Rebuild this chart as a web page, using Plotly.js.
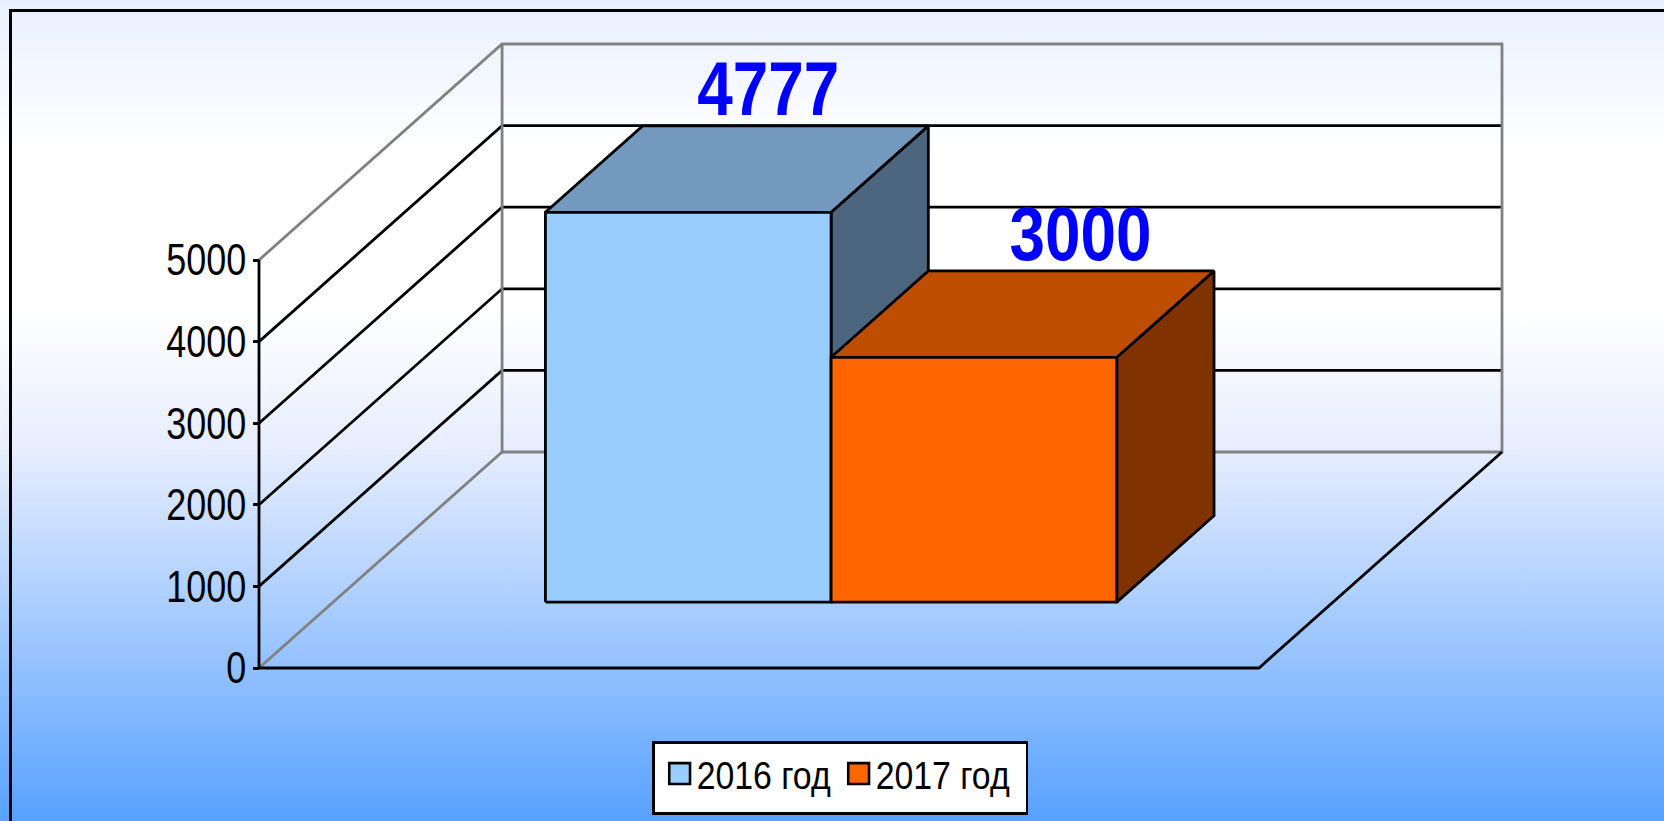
<!DOCTYPE html>
<html>
<head>
<meta charset="utf-8">
<script src="https://cdn.plot.ly/plotly-3.0.1.min.js"></script>
<style>
html,body{margin:0;padding:0;width:1664px;height:821px;overflow:hidden;}
#bg{position:absolute;left:0;top:0;width:1664px;height:821px;background:linear-gradient(to bottom,#e8efff 0px,#ffffff 150px,#ffffff 310px,#e6edff 451px,#57a1ff 821px);}
#frame{position:absolute;left:9px;top:9px;width:1660px;height:815px;border-left:3px solid #000;border-top:3px solid #000;}
#chart{position:absolute;left:0;top:0;width:1664px;height:821px;}
</style>
</head>
<body>
<div id="bg"></div>
<div id="frame"></div>
<div id="chart"></div>
<script>
const categories = ['2016 год', '2017 год'];
const values = [4777, 3000];
const tickValues = [0, 1000, 2000, 3000, 4000, 5000];
const frontColors = ['#99ccff', '#ff6600'];
const topColors = ['#7399bf', '#bf4d00'];
const sideColors = ['#4d6680', '#803300'];

const FONT = '"Liberation Sans",Arial,sans-serif';
const UNIT_W = 285.6, PX_PER_VAL = 0.0816;
const DEPTH_X = 243 / UNIT_W, DEPTH_Y = 216 / PX_PER_VAL;
const FLOOR_W = 3.5, GAP = 0.743;
const BAR_D0 = 0.305, BAR_D1 = 0.705;
const LW = 2.8;
const PAD = 5; // pixels of slack so the frame lines are not clipped by the plot area
const proj = (x, v, d) => [x + d * DEPTH_X, v + d * DEPTH_Y];

function poly(points, style) {
  return Object.assign({
    x: points.map(p => p[0]), y: points.map(p => p[1]),
    type: 'scatter', mode: 'lines', cliponaxis: false,
    hoverinfo: 'skip', showlegend: false
  }, style);
}
const line = (points, color) => poly(points, {line: {color: color, width: LW}});
const face = (points, fill) => poly(points.concat([points[0]]), {
  fill: 'toself', fillcolor: fill, line: {color: '#000', width: LW, simplify: false}
});

const traces = [];
const topTick = tickValues[tickValues.length - 1];

// Gridlines on side and back walls
tickValues.slice(1, -1).forEach(v => {
  traces.push(line([proj(0, v, 0), proj(0, v, 1), proj(FLOOR_W, v, 1)], '#000'));
});
// Wall outlines
traces.push(line([proj(0, topTick, 0), proj(0, topTick, 1), proj(FLOOR_W, topTick, 1), proj(FLOOR_W, 0, 1), proj(0, 0, 1), proj(0, topTick, 1)], '#808080'));
traces.push(line([proj(0, 0, 0), proj(0, 0, 1)], '#808080'));
// Floor edges and value axis
traces.push(line([proj(FLOOR_W, 0, 1), proj(FLOOR_W, 0, 0), proj(0, 0, 0)], '#000'));
traces.push(line([proj(0, 0, 0), proj(0, topTick, 0)], '#000'));

// Bars
values.forEach((v, i) => {
  const x0 = GAP + i, x1 = GAP + i + 1;
  traces.push(face([proj(x1, 0, BAR_D0), proj(x1, 0, BAR_D1), proj(x1, v, BAR_D1), proj(x1, v, BAR_D0)], sideColors[i]));
  traces.push(face([proj(x0, v, BAR_D0), proj(x1, v, BAR_D0), proj(x1, v, BAR_D1), proj(x0, v, BAR_D1)], topColors[i]));
  traces.push(face([proj(x0, 0, BAR_D0), proj(x1, 0, BAR_D0), proj(x1, v, BAR_D0), proj(x0, v, BAR_D0)], frontColors[i]));
});

// Value labels
const labelShift = [-0.06, 0.033];
const labelDrop = 95;
values.forEach((v, i) => {
  const p = proj(GAP + i + 0.5 + labelShift[i], v - labelDrop, BAR_D1);
  traces.push({
    x: [p[0]], y: [p[1]], text: [String(v)], type: 'scatter', mode: 'text',
    textposition: 'top center', cliponaxis: false, hoverinfo: 'skip', showlegend: false,
    textfont: {family: FONT, size: 76, color: '#0000ff', weight: 'bold'}
  });
});

// Legend entries
categories.forEach((c, i) => {
  traces.push({
    x: [null], y: [null], name: c, type: 'scatter', mode: 'markers', hoverinfo: 'skip',
    marker: {symbol: 'square', size: 16, color: frontColors[i], line: {color: '#000', width: 2}}
  });
});

const plotW = 1664 - (259 - PAD) - (162.3 - PAD);
const layout = {
  width: 1664, height: 821,
  paper_bgcolor: 'rgba(0,0,0,0)', plot_bgcolor: 'rgba(0,0,0,0)',
  margin: {l: 259 - PAD, r: 162.3 - PAD, t: 43.5 - PAD, b: 152.5 - PAD, pad: 0, autoexpand: false},
  xaxis: {range: [-PAD / UNIT_W, FLOOR_W + DEPTH_X + PAD / UNIT_W], visible: false, fixedrange: true},
  yaxis: {
    range: [-PAD / PX_PER_VAL, topTick + DEPTH_Y + PAD / PX_PER_VAL],
    anchor: 'free', position: PAD / plotW, side: 'left',
    tickmode: 'array', tickvals: tickValues,
    ticktext: tickValues.map(String), ticks: 'outside', ticklen: 6, tickwidth: 2.5, tickcolor: '#000',
    ticklabelstandoff: -2,
    showgrid: false, zeroline: false, showline: false, fixedrange: true,
    tickfont: {family: FONT, size: 44, color: '#000'}
  },
  legend: {
    orientation: 'h', x: 0.4642, xanchor: 'center', y: -0.1044, yanchor: 'top',
    bgcolor: '#ffffff', bordercolor: '#000', borderwidth: 2.5,
    font: {family: FONT, size: 39, color: '#000'},
    entrywidth: 134, entrywidthmode: 'pixels',
    itemclick: false, itemdoubleclick: false
  },
  showlegend: true
};

// The reference uses a condensed face: condense the real text to its measured width.
function condense(el, w) {
  el.setAttribute('textLength', w);
  el.setAttribute('lengthAdjust', 'spacingAndGlyphs');
}
Plotly.newPlot('chart', traces, layout, {displayModeBar: false}).then(gd => {
  gd.querySelectorAll('.ytick text').forEach(t => condense(t, t.textContent.length * 20));
  gd.querySelectorAll('.textpoint text').forEach(t => condense(t, 142));
  gd.querySelectorAll('.legendtext').forEach(t => condense(t, 134));
  gd.querySelectorAll('.legendpoints path').forEach(p => {
    p.setAttribute('transform', 'translate(23,0) scale(1.3)');
    p.style.strokeWidth = '2px';
  });
  const bg = gd.querySelector('.legend rect.bg');
  if (bg) {
    const x = parseFloat(bg.getAttribute('x')) || 0, y = parseFloat(bg.getAttribute('y')) || 0;
    bg.setAttribute('x', x - 2);
    bg.setAttribute('y', y + 2);
    bg.setAttribute('width', 373.5);
    bg.setAttribute('height', 71);
  }
});
</script>
</body>
</html>
